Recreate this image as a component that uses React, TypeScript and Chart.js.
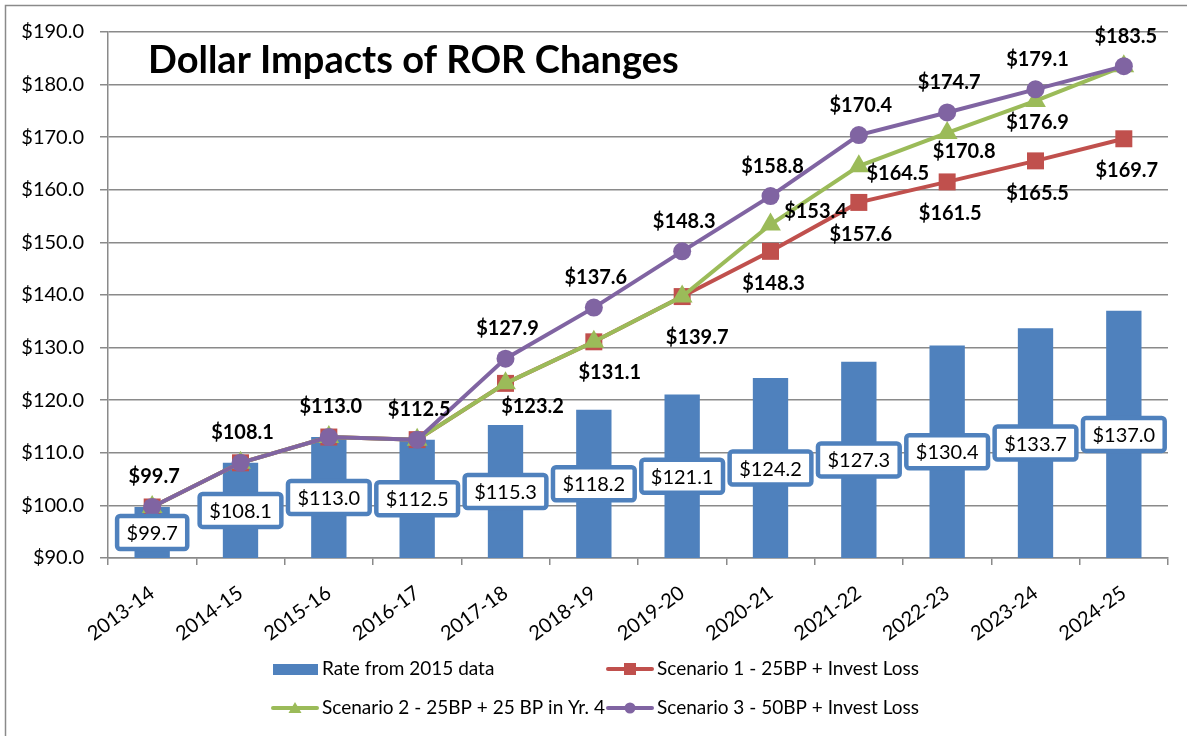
import React, { useEffect, useRef } from 'react';
import { Chart, registerables } from 'chart.js';

Chart.register(...registerables);

// ---------- data ----------
const categories = ['2013-14', '2014-15', '2015-16', '2016-17', '2017-18', '2018-19', '2019-20', '2020-21', '2021-22', '2022-23', '2023-24', '2024-25'];
const rate2015 = [99.7, 108.1, 113.0, 112.5, 115.3, 118.2, 121.1, 124.2, 127.3, 130.4, 133.7, 137.0];
const scenario1 = [99.7, 108.1, 113.0, 112.5, 123.2, 131.1, 139.7, 148.3, 157.6, 161.5, 165.5, 169.7];
const scenario2 = [99.7, 108.1, 113.0, 112.5, 123.2, 131.1, 139.7, 153.4, 164.5, 170.8, 176.9, 183.5];
const scenario3 = [99.7, 108.1, 113.0, 112.5, 127.9, 137.6, 148.3, 158.8, 170.4, 174.7, 179.1, 183.5];
const seriesNames = ['Rate from 2015 data', 'Scenario 1 - 25BP + Invest Loss', 'Scenario 2 - 25BP + 25 BP in Yr. 4', 'Scenario 3 - 50BP + Invest Loss'];
const titleText = 'Dollar Impacts of ROR Changes';
const yMin = 90;
const yMax = 190;
const yStep = 10;

// ---------- styles ----------
const BLUE = '#4F81BD';
const RED = '#C0504D';
const GREEN = '#9BBB59';
const PURPLE = '#8064A2';
const GRID = '#8a8a8a';
const FONT = 'Lato, "Noto Sans", "DejaVu Sans", sans-serif';

// label placement offsets in px relative to the point (null = hidden)
type Off = [number, number] | null;
const s1LabelOffsets: Off[] = [null, null, null, null, [27, 23], [16, 31], [15, 41], [3, 32], [2, 32], [3, 32], [2, 33], [3, 32]];
const s2LabelOffsets: Off[] = [null, null, null, null, null, null, null, [45, -13], [39, 7], [17, 19], [2, 22], null];
const s3LabelOffset: [number, number] = [2, -30];

const money = (v: number) => '$' + v.toFixed(1);

function roundRect(ctx: CanvasRenderingContext2D, x: number, y: number, w: number, h: number, r: number) {
  ctx.beginPath();
  ctx.moveTo(x + r, y);
  ctx.lineTo(x + w - r, y);
  ctx.arcTo(x + w, y, x + w, y + r, r);
  ctx.lineTo(x + w, y + h - r);
  ctx.arcTo(x + w, y + h, x + w - r, y + h, r);
  ctx.lineTo(x + r, y + h);
  ctx.arcTo(x, y + h, x, y + h - r, r);
  ctx.lineTo(x, y + r);
  ctx.arcTo(x, y, x + r, y, r);
  ctx.closePath();
}

const customPlugin = {
  id: 'customDecor',
  beforeDraw(chart: any) {
    const ctx: CanvasRenderingContext2D = chart.ctx;
    ctx.save();
    ctx.fillStyle = '#fff';
    ctx.fillRect(0, 0, chart.width, chart.height);
    ctx.strokeStyle = GRID;
    ctx.lineWidth = 1.5;
    ctx.beginPath();
    ctx.moveTo(5.5, chart.height + 2);
    ctx.lineTo(5.5, 5.5);
    ctx.lineTo(chart.width + 2, 5.5);
    ctx.stroke();
    ctx.restore();
  },
  afterDatasetsDraw(chart: any) {
    const ctx: CanvasRenderingContext2D = chart.ctx;
    const yScale = chart.scales.y;
    ctx.save();
    // bar labels (boxed, centered in bar)
    const barMeta = chart.getDatasetMeta(0);
    ctx.font = `20px ${FONT}`;
    ctx.textAlign = 'center';
    ctx.textBaseline = 'middle';
    barMeta.data.forEach((el: any, i: number) => {
      const v = rate2015[i];
      const cy = yScale.getPixelForValue((v + yMin) / 2);
      const cx = el.x;
      const t = money(v);
      const w = ctx.measureText(t).width + 19;
      const h = 33;
      roundRect(ctx, cx - w / 2, cy - h / 2, w, h, 3);
      ctx.fillStyle = '#fff';
      ctx.fill();
      ctx.lineWidth = 4.5;
      ctx.strokeStyle = BLUE;
      ctx.stroke();
      ctx.fillStyle = '#000';
      ctx.fillText(t, cx, cy + 1);
    });
    // line labels
    ctx.font = `bold 20px ${FONT}`;
    const drawSet = (dsIndex: number, values: number[], offs: Off[]) => {
      const meta = chart.getDatasetMeta(dsIndex);
      meta.data.forEach((el: any, i: number) => {
        const o = offs[i];
        if (!o) return;
        ctx.fillStyle = '#000';
        ctx.fillText(money(values[i]), el.x + o[0], el.y + o[1]);
      });
    };
    drawSet(1, scenario1, s1LabelOffsets);
    drawSet(2, scenario2, s2LabelOffsets);
    drawSet(3, scenario3, scenario3.map(() => s3LabelOffset));
    ctx.restore();
  },
  afterDraw(chart: any) {
    const ctx: CanvasRenderingContext2D = chart.ctx;
    ctx.save();
    // title
    ctx.font = `bold 38px ${FONT}`;
    ctx.fillStyle = '#000';
    ctx.textAlign = 'left';
    ctx.textBaseline = 'middle';
    ctx.fillText(titleText, 148, 61);

    // legend
    ctx.font = `19px ${FONT}`;
    const rows = [669, 708];
    const cols = [271, 606];
    const textDx = 51;
    // 1: bar
    ctx.fillStyle = BLUE;
    ctx.fillRect(cols[0] + 2, rows[0] - 5, 45, 11);
    ctx.fillStyle = '#000';
    ctx.fillText(seriesNames[0], cols[0] + textDx, rows[0]);
    const lineSym = (x: number, y: number, color: string, shape: string) => {
      ctx.strokeStyle = color;
      ctx.fillStyle = color;
      ctx.lineWidth = 4;
      ctx.lineCap = 'round';
      ctx.beginPath();
      ctx.moveTo(x + 2, y);
      ctx.lineTo(x + 46, y);
      ctx.stroke();
      const cx = x + 24;
      ctx.beginPath();
      if (shape === 'rect') {
        ctx.rect(cx - 6, y - 6, 12, 12);
      } else if (shape === 'circle') {
        ctx.arc(cx, y, 5.5, 0, Math.PI * 2);
      } else {
        ctx.moveTo(cx, y - 6);
        ctx.lineTo(cx + 6.5, y + 5);
        ctx.lineTo(cx - 6.5, y + 5);
        ctx.closePath();
      }
      ctx.fill();
      ctx.fillStyle = '#000';
    };
    lineSym(cols[1], rows[0], RED, 'rect');
    ctx.fillText(seriesNames[1], cols[1] + textDx, rows[0]);
    lineSym(cols[0], rows[1], GREEN, 'triangle');
    ctx.fillText(seriesNames[2], cols[0] + textDx, rows[1]);
    lineSym(cols[1], rows[1], PURPLE, 'circle');
    ctx.fillText(seriesNames[3], cols[1] + textDx, rows[1]);
    ctx.restore();
  },
};

export default function App() {
  const ref = useRef<HTMLCanvasElement>(null);
  useEffect(() => {
    const canvas = ref.current!;
    const chart = new Chart(canvas, {
      type: 'bar',
      data: {
        labels: categories,
        datasets: [
          {
            type: 'bar',
            label: seriesNames[0],
            data: rate2015,
            backgroundColor: BLUE,
            borderWidth: 0,
            barPercentage: 0.4,
            categoryPercentage: 1,
            order: 4,
          } as any,
          {
            type: 'line',
            label: seriesNames[1],
            data: scenario1,
            borderColor: RED,
            backgroundColor: RED,
            borderWidth: 4,
            pointStyle: 'rect',
            pointRadius: 12,
            pointBorderWidth: 0,
            pointBackgroundColor: RED,
            tension: 0,
            order: 3,
          },
          {
            type: 'line',
            label: seriesNames[2],
            data: scenario2,
            borderColor: GREEN,
            backgroundColor: GREEN,
            borderWidth: 4,
            pointStyle: 'triangle',
            pointRadius: 12,
            pointBorderWidth: 0,
            pointBackgroundColor: GREEN,
            tension: 0,
            order: 2,
          },
          {
            type: 'line',
            label: seriesNames[3],
            data: scenario3,
            borderColor: PURPLE,
            backgroundColor: PURPLE,
            borderWidth: 4,
            pointStyle: 'circle',
            pointRadius: 9,
            pointBorderWidth: 0,
            pointBackgroundColor: PURPLE,
            tension: 0,
            order: 1,
          },
        ],
      },
      options: {
        responsive: false,
        animation: false,
        devicePixelRatio: 1,
        layout: { padding: { left: 0, top: 32, right: 19, bottom: 0 } },
        plugins: {
          legend: { display: false },
          tooltip: { enabled: false },
          title: { display: false },
        },
        scales: {
          x: {
            offset: true,
            grid: { display: true, drawOnChartArea: false, drawTicks: true, tickLength: 7, color: GRID, lineWidth: 1.5, offset: true },
            border: { color: GRID, width: 1.5 },
            ticks: {
              color: '#000',
              font: { family: FONT, size: 20 },
              minRotation: 36,
              maxRotation: 36,
              autoSkip: false,
              padding: 16,
            },
            afterFit: (s: any) => { s.height = 178; },
          },
          y: {
            min: yMin,
            max: yMax,
            ticks: {
              stepSize: yStep,
              color: '#000',
              font: { family: FONT, size: 20 },
              padding: 16,
              callback: (v: any) => money(Number(v)),
            },
            grid: { color: GRID, lineWidth: 1.5, tickLength: 8, drawTicks: true },
            border: { color: GRID, width: 1.5 },
            afterFit: (s: any) => { s.width = 108; },
          },
        },
      },
      plugins: [customPlugin],
    } as any);
    return () => chart.destroy();
  }, []);
  return (
    <div style={{ position: 'fixed', left: 0, top: 0, width: 1187, height: 736, background: '#fff' }}>
      <canvas ref={ref} width={1187} height={736} style={{ display: 'block' }} />
    </div>
  );
}
